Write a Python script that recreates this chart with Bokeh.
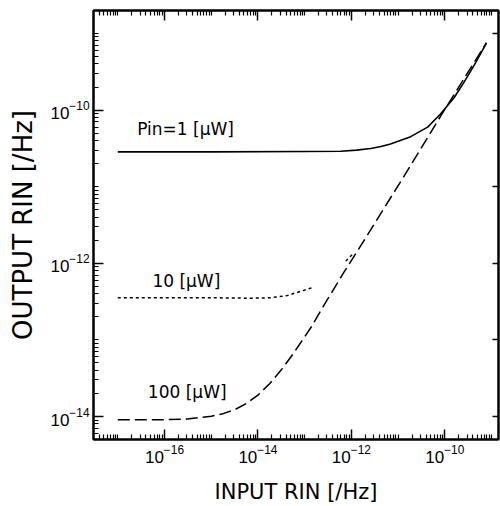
from bokeh.plotting import figure
from bokeh.models import LogAxis, FixedTicker, Range1d, Label
from bokeh.embed import file_html
from bokeh.resources import INLINE

# ---- data (input RIN [/Hz] -> output RIN [/Hz]) ----
x_p1 = [1e-17, 1e-15, 1e-13, 5.9e-13, 1.3e-12, 2.6e-12, 4.3e-12, 6.9e-12, 1.86e-11,
        4.3e-11, 8.1e-11, 1.58e-10, 2.57e-10, 4.3e-10, 7.8e-10]
y_p1 = [2.85e-11, 2.85e-11, 2.88e-11, 2.9e-11, 3.0e-11, 3.15e-11, 3.35e-11, 3.6e-11,
        4.5e-11, 6.0e-11, 8.9e-11, 1.45e-10, 2.3e-10, 3.9e-10, 7.5e-10]

x_p10 = [1e-17, 1e-15, 6.9e-15, 1.86e-14, 4.3e-14, 8.1e-14, 1.6e-13]
y_p10 = [3.55e-13, 3.55e-13, 3.5e-13, 3.55e-13, 3.8e-13, 4.3e-13, 4.9e-13]
x_p10b = [7.6e-13, 1.07e-12]
y_p10b = [1.07e-12, 1.32e-12]

x_p100 = [1e-17, 1e-16, 3.1e-16, 1.0e-15, 1.8e-15, 3.2e-15, 5.6e-15, 1.0e-14, 1.8e-14,
          3.2e-14, 5.6e-14, 1.35e-13, 3.1e-13, 6.9e-13, 1.45e-12, 1.23e-11, 8.9e-11,
          2.2e-10, 7.8e-10]
y_p100 = [9.1e-15, 9.1e-15, 9.3e-15, 1.01e-14, 1.09e-14, 1.23e-14, 1.47e-14, 1.9e-14,
          2.7e-14, 4.1e-14, 6.5e-14, 1.44e-13, 3.4e-13, 7.6e-13, 1.55e-12, 1.26e-11,
          9.1e-11, 2.2e-10, 7.6e-10]

series_labels = ["Pin=1 [\u03bcW]", "10 [\u03bcW]", "100 [\u03bcW]"]
x_label_exp = [-16, -14, -12, -10]
y_label_exp = [-14, -12, -10]

# ---- ticks ----
def decade_ticks(lo, hi, labeled):
    minor = []
    for n in range(lo, hi + 1):
        for m in range(1, 10):
            if m == 1 and n in labeled:
                continue
            minor.append(m * 10.0 ** n)
    return minor

x_major = [10.0 ** e for e in x_label_exp]
y_major = [10.0 ** e for e in y_label_exp]
x_minor = decade_ticks(-18, -9, x_label_exp)
y_minor = decade_ticks(-15, -9, y_label_exp)

p = figure(width=500, height=506, x_axis_type="log", y_axis_type="log",
           x_range=Range1d(10 ** -17.52, 10 ** -8.85),
           y_range=Range1d(10 ** -14.30, 10 ** -8.70),
           output_backend="svg", toolbar_location=None,
           min_border_left=93, min_border_right=2, min_border_top=10, min_border_bottom=65)
p.xgrid.visible = False
p.ygrid.visible = False
p.outline_line_color = "black"
p.outline_line_width = 2
p.background_fill_color = "white"
p.border_fill_color = "white"

def style_axis(ax, labels=True):
    ax.axis_line_width = 2
    ax.axis_line_color = "black"
    ax.major_tick_in = 10
    ax.major_tick_out = 0
    ax.minor_tick_in = 5
    ax.minor_tick_out = 0
    ax.major_tick_line_width = 1.5
    ax.minor_tick_line_width = 1.2
    ax.major_tick_line_color = "black"
    ax.minor_tick_line_color = "black"
    if labels:
        ax.major_label_text_font = "Liberation Sans"
        ax.major_label_text_font_size = "17px"
        ax.major_label_text_color = "black"
        ax.axis_label_text_color = "black"
    else:
        ax.major_label_text_font_size = "1px"
        ax.major_label_text_alpha = 0
        ax.major_label_standoff = 0

xa = p.xaxis[0]
xa.ticker = FixedTicker(ticks=x_major, minor_ticks=x_minor)
style_axis(xa)
xa.major_label_standoff = 5
xa.axis_label = "INPUT RIN [/Hz]"
xa.axis_label_text_font = "DejaVu Sans"
xa.axis_label_text_font_size = "21px"
xa.axis_label_text_font_style = "normal"
xa.axis_label_standoff = 14

ya = p.yaxis[0]
ya.ticker = FixedTicker(ticks=y_major, minor_ticks=y_minor)
style_axis(ya)
ya.major_label_standoff = 4
ya.axis_label = "OUTPUT RIN [/Hz]"
ya.axis_label_text_font = "DejaVu Sans"
ya.axis_label_text_font_size = "26px"
ya.axis_label_text_font_style = "normal"
ya.axis_label_standoff = 9

top = LogAxis(ticker=FixedTicker(ticks=x_major, minor_ticks=x_minor))
style_axis(top, labels=False)
p.add_layout(top, "above")

right = LogAxis(ticker=FixedTicker(ticks=[10.0 ** n for n in range(-15, -8)], minor_ticks=[]))
style_axis(right, labels=False)
right.major_tick_in = 6
p.add_layout(right, "right")

# ---- curves ----
p.line(x_p1, y_p1, line_color="black", line_width=1.6)
p.line(x_p10, y_p10, line_color="black", line_width=1.5, line_dash="3 3")
p.line(x_p10b, y_p10b, line_color="black", line_width=1.5, line_dash="3 3")
p.line(x_p100, y_p100, line_color="black", line_width=1.5, line_dash="12 5")

# ---- curve labels ----
label_pos = [(2.6e-17, 5.6e-11), (5.5e-17, 5.9e-13), (4.4e-17, 2.1e-14)]
for (lx, ly), txt in zip(label_pos, series_labels):
    p.add_layout(Label(x=lx, y=ly, text=txt, text_font="DejaVu Sans",
                       text_font_size="17px", text_color="black",
                       text_baseline="middle", text_align="left"))

open("out.html", "w").write(file_html(p, INLINE))
